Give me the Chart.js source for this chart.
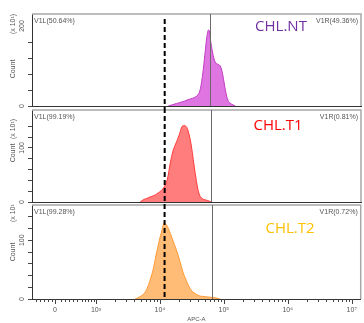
<!DOCTYPE html>
<html>
<head>
<meta charset="utf-8">
<script src="https://cdn.jsdelivr.net/npm/chart.js@4.4.1/dist/chart.umd.min.js"></script>
<style>
    html, body { margin: 0; padding: 0; background: #fff; }
    #wrap { position: relative; width: 364px; height: 323px; overflow: hidden; }
    canvas { position: absolute; left: 0; }
</style>
</head>
<body>
<div id="wrap">
    <canvas id="p1" width="364" height="108" style="top:0"></canvas>
    <canvas id="p2" width="364" height="96" style="top:108px"></canvas>
    <canvas id="p3" width="364" height="119" style="top:204px"></canvas>
</div>
<script>
// x values are display units: log10(APC-A) above 10^3, biexponential below
const tickValues = [2.36, 3, 4, 5, 6, 7];
const tickLabels = ['0', '10³', '10⁴', '10⁵', '10⁶', '10⁷'];
const lowMinor = [2.063, 2.125, 2.188, 2.25, 2.313, 2.449, 2.512, 2.579, 2.646, 2.709, 2.778, 2.834, 2.881, 2.923, 2.97];

// CHL.NT
const ntX = [4.128, 4.191, 4.254, 4.316, 4.379, 4.441, 4.504, 4.567, 4.613, 4.645, 4.676, 4.707, 4.731, 4.754, 4.770,
    4.793, 4.817, 4.848, 4.880, 4.911, 4.942, 4.973, 5.005, 5.036, 5.067, 5.114, 5.177];
const ntY = [0, 3, 6, 9, 12, 16, 19, 24, 33, 55, 92, 138, 172, 190, 188,
    160, 138, 115, 106, 104, 100, 84, 55, 28, 12, 5, 0];
// CHL.T1
const t1X = [3.690, 3.737, 3.800, 3.862, 3.925, 3.972, 4.019, 4.066, 4.113, 4.160, 4.207, 4.254, 4.300, 4.347,
    4.394, 4.426, 4.473, 4.504, 4.535, 4.567, 4.598, 4.629, 4.676, 4.739, 4.801];
const t1Y = [0, 4, 7, 10, 13, 17, 21, 28, 41, 72, 96, 110, 124, 140,
    141, 136, 115, 92, 65, 40, 20, 10, 5, 3, 0];
// CHL.T2
const t2X = [3.612, 3.690, 3.753, 3.800, 3.847, 3.894, 3.941, 3.987, 4.034, 4.066, 4.097, 4.128, 4.175, 4.222,
    4.269, 4.316, 4.363, 4.410, 4.457, 4.504, 4.567, 4.629, 4.707, 4.786, 4.864, 4.942];
const t2Y = [0, 4, 9, 18, 32, 50, 75, 98, 118, 130, 127, 121, 108, 94,
    80, 63, 45, 32, 21, 13, 8, 5, 4, 3, 2, 0];

const sampleNames = ['CHL.NT', 'CHL.T1', 'CHL.T2'];
const leftGates = ['V1L(50.64%)', 'V1L(99.19%)', 'V1L(99.28%)'];
const rightGates = ['V1R(49.36%)', 'V1R(0.81%)', 'V1R(0.72%)'];
const gateX = [4.78, 4.795, 4.815];
const cutX = 4.073;
const yTickVals = [[0, 200], [0, 100], [0, 100]];
const yTickText = [['0', '200'], ['0', '100'], ['0', '100']];

const xMin = 2, xMax = 7.14;

const decor = {
    id: 'decor',
    afterDraw(chart, args, o) {
        const { ctx, chartArea: a } = chart;
        const x = chart.scales.x, y = chart.scales.y;
        ctx.save();
        // top + right frame
        ctx.strokeStyle = '#a8a8a8'; ctx.lineWidth = 1.5;
        ctx.beginPath();
        ctx.moveTo(a.left, a.top); ctx.lineTo(a.right, a.top); ctx.lineTo(a.right, a.bottom);
        ctx.stroke();
        // gate divider
        let gx = Math.round(x.getPixelForValue(o.gate)) + .5;
        ctx.strokeStyle = '#6b6b6b'; ctx.lineWidth = 1;
        ctx.beginPath(); ctx.moveTo(gx, a.top); ctx.lineTo(gx, a.bottom); ctx.stroke();
        // dashed cut line
        let cx = x.getPixelForValue(cutX);
        ctx.setLineDash([5, 3]); ctx.strokeStyle = '#000'; ctx.lineWidth = 2;
        ctx.beginPath(); ctx.moveTo(cx, o.dashFrom); ctx.lineTo(cx, o.dashTo); ctx.stroke();
        ctx.setLineDash([]);
        // gate texts
        ctx.fillStyle = '#555'; ctx.font = '7px "Liberation Sans"'; ctx.textBaseline = 'middle';
        ctx.textAlign = 'left'; ctx.fillText(o.left, a.left + 2, a.top + 7);
        ctx.textAlign = 'right'; ctx.fillText(o.right, a.right - 3, a.top + 7);
        // sample name
        ctx.fillStyle = o.color; ctx.font = '15px "Open Sans"'; ctx.textAlign = 'center';
        ctx.fillText(o.name, o.nameX, o.nameY);
        // rotated y texts
        const rot = (t, px, py, font) => {
            ctx.save(); ctx.translate(px, py); ctx.rotate(-Math.PI / 2);
            ctx.font = font; ctx.fillStyle = '#555'; ctx.textAlign = 'center'; ctx.textBaseline = 'middle';
            ctx.fillText(t, 0, 0); ctx.restore();
        };
        o.yVals.forEach((v, i) => rot(o.yText[i], 22.5, y.getPixelForValue(v), '7px "Liberation Sans"'));
        rot('Count', 13, o.countY, '7px "Liberation Sans"');
        rot('(x 10¹)', 13, o.expY, '7px "Liberation Sans"');
        // x minor/major ticks on bottom panel
        if (o.showX) {
            ctx.strokeStyle = '#444'; ctx.lineWidth = 1;
            const tick = (v, len) => {
                let p = Math.round(x.getPixelForValue(v)) + .5;
                ctx.beginPath(); ctx.moveTo(p, a.bottom); ctx.lineTo(p, a.bottom + len); ctx.stroke();
            };
            lowMinor.forEach(v => tick(v, 3));
            for (let d = 3; d < 7; d++) for (let k = 2; k < 10; k++) tick(d + Math.log10(k), 3);
            tickValues.forEach(v => tick(v, 5));
        }
        ctx.restore();
    }
};

function makePanel(id, p) {
    return new Chart(document.getElementById(id), {
        type: 'line',
        data: {
            datasets: [{
                data: p.xs.map((v, i) => ({ x: v, y: p.ys[i] })),
                borderColor: p.line, backgroundColor: p.fill, fill: 'origin',
                borderWidth: 1, pointRadius: 0, tension: 0.3
            }]
        },
        options: {
            responsive: false, animation: false,
            layout: { padding: { top: p.padTop, right: 3, left: 0, bottom: p.padBottom } },
            plugins: {
                legend: { display: false }, tooltip: { enabled: false },
                decor: p.decor
            },
            scales: {
                x: {
                    type: 'linear', min: xMin, max: xMax,
                    afterFit: s => { s.height = p.xh; },
                    afterBuildTicks: s => { s.ticks = tickValues.map(v => ({ value: v })); },
                    grid: { display: false, drawTicks: false },
                    border: { color: '#333', width: 1 },
                    ticks: {
                        display: p.showX, autoSkip: false, maxRotation: 0, padding: 7,
                        color: '#555', font: { family: 'Liberation Sans', size: 7 },
                        callback: v => tickLabels[tickValues.indexOf(v)] ?? ''
                    },
                    title: {
                        display: p.showX, text: 'APC-A', color: '#555',
                        font: { family: 'Liberation Sans', size: 6 }, padding: { top: 0, bottom: 0 }
                    }
                },
                y: {
                    min: 0, max: p.yMax,
                    afterFit: s => { s.width = 32; },
                    afterBuildTicks: s => { s.ticks = s.ticks.filter(t => t.value <= p.yTop); },
                    grid: { drawOnChartArea: false, tickLength: 4, tickColor: '#444' },
                    border: { color: '#333', width: 1 },
                    ticks: { display: false, stepSize: p.yStep }
                }
            }
        },
        plugins: [decor]
    });
}

makePanel('p1', {
    xs: ntX, ys: ntY, line: '#c13cc4', fill: 'rgba(220,110,222,0.95)',
    padTop: 14, padBottom: 2, xh: 0, showX: false, yMax: 230, yStep: 40, yTop: 200,
    decor: {
        gate: gateX[0], dashFrom: 19, dashTo: 108, left: leftGates[0], right: rightGates[0],
        name: sampleNames[0], color: '#7030a0', nameX: 281, nameY: 27,
        yVals: yTickVals[0], yText: yTickText[0], countY: 69, expY: 24, showX: false
    }
});
makePanel('p2', {
    xs: t1X, ys: t1Y, line: '#ff3b3b', fill: 'rgba(255,118,118,0.95)',
    padTop: 2, padBottom: 2, xh: 0, showX: false, yMax: 170, yStep: 20, yTop: 140,
    decor: {
        gate: gateX[1], dashFrom: 0, dashTo: 96, left: leftGates[1], right: rightGates[1],
        name: sampleNames[1], color: '#ff0000', nameX: 278, nameY: 18,
        yVals: yTickVals[1], yText: yTickText[1], countY: 45, expY: 21, showX: false
    }
});
makePanel('p3', {
    xs: t2X, ys: t2Y, line: '#ff9933', fill: 'rgba(255,184,112,0.95)',
    padTop: 1, padBottom: 0, xh: 24, showX: true, yMax: 160, yStep: 20, yTop: 140,
    decor: {
        gate: gateX[2], dashFrom: 0, dashTo: 95, left: leftGates[2], right: rightGates[2],
        name: sampleNames[2], color: '#ffc000', nameX: 290, nameY: 25,
        yVals: yTickVals[2], yText: yTickText[2], countY: 48, expY: 8, showX: true
    }
});
</script>
</body>
</html>
